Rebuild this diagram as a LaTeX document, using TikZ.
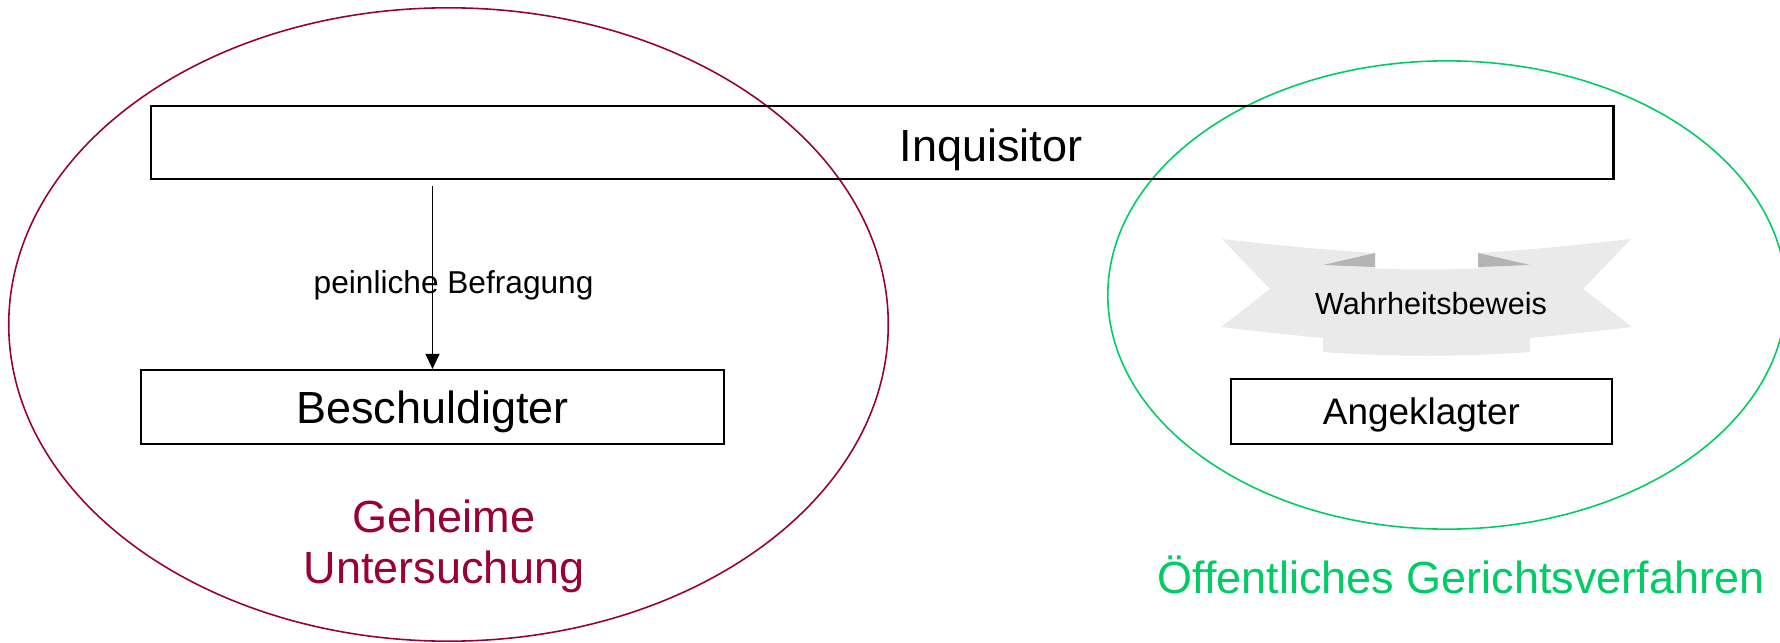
\documentclass[tikz,border=0pt]{standalone}
\usepackage{fontspec}
\setmainfont{Liberation Sans}
\usetikzlibrary{arrows.meta}
\definecolor{secretred}{RGB}{153, 0, 51}
\definecolor{publicgreen}{RGB}{0, 204, 102}
\definecolor{ribbongray}{RGB}{234, 234, 234}
\definecolor{ribbonfold}{RGB}{180, 180, 180}

\begin{document}
\begin{tikzpicture}[
  x=0.01cm, y=-0.01cm,
  actor/.style={rectangle, draw=black, line width=0.6pt, inner sep=0pt, align=center, text depth=0pt},
  procring/.style={line width=0.45pt},
  interrog/.style={-{Triangle[length=4.3pt,width=4pt]}, line width=0.35pt, color=black},
  biglbl/.style={font=\fontsize{12.8}{14.5}\selectfont},
  smalllbl/.style={font=\fontsize{9}{11}\selectfont}
]
\useasboundingbox (0,0) rectangle (1780,643);

% The two procedures
\draw[procring, secretred] (448.5,324.5) ellipse [x radius=4.395cm, y radius=3.165cm];
\draw[procring, publicgreen] (1447,295) ellipse [x radius=3.39cm, y radius=2.34cm];

% Inquisitor spans both procedures
\node[actor, minimum width=146.2mm, minimum height=7.3mm] (inq) at (882,142.5) {};
\node[biglbl] (inqtxt) at (991,150) {Inquisitor};

% Secret investigation
\node[actor, biglbl, minimum width=58.3mm, minimum height=7.4mm] (besch) at (432.5,407) {Beschuldigter};
\draw[interrog, shorten <=0.6mm] (besch.north |- inq.south) -- node[smalllbl, pos=0.555, xshift=6pt] {peinliche Befragung} (besch.north);
\node[biglbl, secretred, align=center] (geheim) at (444,546) {Geheime\\Untersuchung};

% Public trial: ribbon wings, folds and band
\fill[ribbongray] (1222,239) .. controls (1275,245) and (1325,250) .. (1375,253) -- (1375,340) -- (1323,338)
  .. controls (1290,335) and (1255,331) .. (1221,327) -- (1270,289) -- cycle;
\fill[ribbongray] (1631,239) .. controls (1578,245) and (1528,250) .. (1478,253) -- (1478,340) -- (1530,338)
  .. controls (1563,335) and (1598,331) .. (1632,327) -- (1583,289) -- cycle;
\fill[ribbonfold] (1323,265) -- (1375,253) -- (1375,267) -- cycle;
\fill[ribbonfold] (1530,265) -- (1478,253) -- (1478,267) -- cycle;
\fill[ribbongray] (1323,265) .. controls (1390,271) and (1463,271) .. (1530,265) -- (1530,352)
  .. controls (1463,357) and (1390,357) .. (1323,352) -- cycle;
\node[font=\fontsize{8.7}{10}\selectfont] (beweis) at (1431,304) {Wahrheitsbeweis};

\node[actor, font=\fontsize{10.5}{12}\selectfont, minimum width=38.1mm, minimum height=6.5mm] (angekl) at (1421.5,411.5) {Angeklagter};
\node[publicgreen, font=\fontsize{12.8}{15}\selectfont] (oeff) at (1461,575) {Öffentliches Gerichtsverfahren};

\end{tikzpicture}
\end{document}
